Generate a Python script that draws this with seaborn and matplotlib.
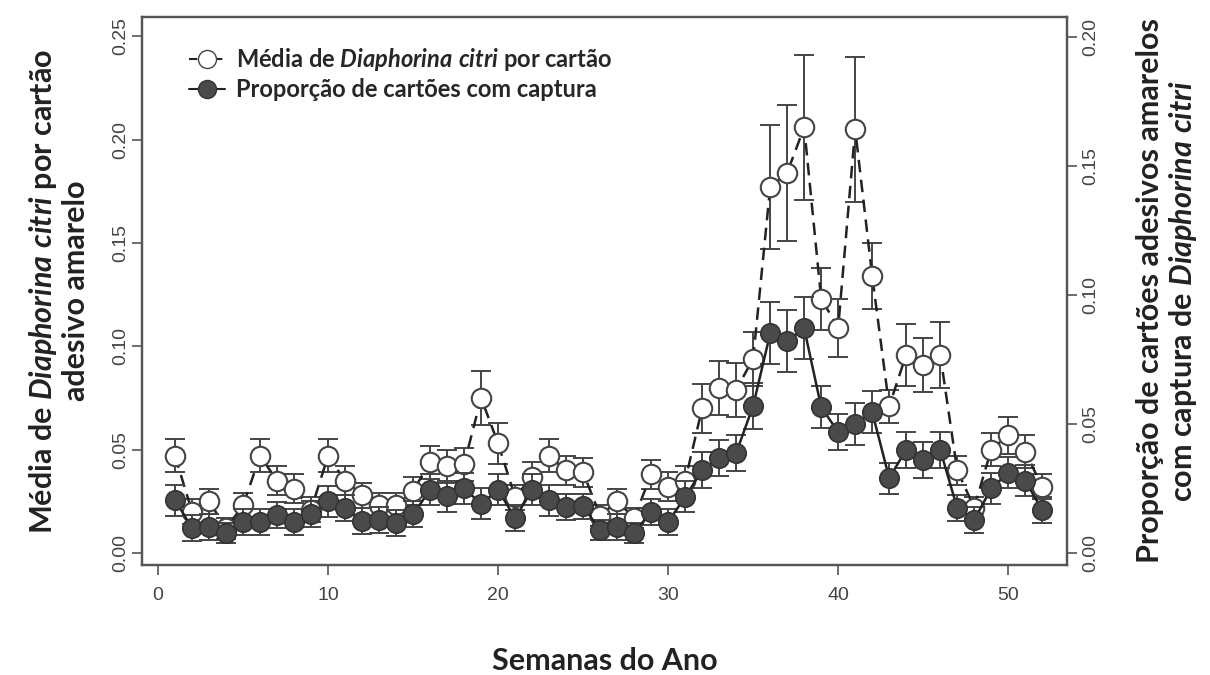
import matplotlib
matplotlib.use("Agg")
import matplotlib.pyplot as plt
from matplotlib.lines import Line2D
import numpy as np
import pandas as pd
import seaborn as sns

# weeks of the year
semanas = list(range(1, 53))

# mean number of D. citri per card (left axis)
media = [0.047, 0.020, 0.025, 0.012, 0.023, 0.047, 0.035, 0.031, 0.021, 0.047,
         0.035, 0.028, 0.023, 0.023, 0.030, 0.044, 0.042, 0.043, 0.075, 0.053,
         0.027, 0.037, 0.047, 0.040, 0.039, 0.018, 0.025, 0.017, 0.038, 0.032,
         0.035, 0.070, 0.080, 0.079, 0.094, 0.177, 0.184, 0.206, 0.123, 0.109,
         0.205, 0.134, 0.071, 0.096, 0.091, 0.096, 0.040, 0.022, 0.050, 0.057,
         0.049, 0.032]
media_err = [0.008, 0.006, 0.006, 0.005, 0.006, 0.008, 0.007, 0.007, 0.006, 0.008,
             0.007, 0.006, 0.006, 0.006, 0.007, 0.008, 0.008, 0.008, 0.013, 0.010,
             0.006, 0.007, 0.008, 0.007, 0.007, 0.005, 0.006, 0.005, 0.007, 0.007,
             0.007, 0.012, 0.013, 0.013, 0.013, 0.030, 0.033, 0.035, 0.015, 0.014,
             0.035, 0.016, 0.008, 0.015, 0.013, 0.016, 0.007, 0.005, 0.008, 0.009,
             0.008, 0.006]

# proportion of cards with capture (right axis)
proporcao = [0.0205, 0.0097, 0.0100, 0.0077, 0.0120, 0.0120, 0.0147, 0.0120, 0.0150, 0.0200,
             0.0174, 0.0124, 0.0128, 0.0116, 0.0150, 0.0244, 0.0220, 0.0250, 0.0190, 0.0244,
             0.0135, 0.0244, 0.0205, 0.0178, 0.0180, 0.0089, 0.0100, 0.0077, 0.0160, 0.0120,
             0.0217, 0.0320, 0.0368, 0.0387, 0.0570, 0.0850, 0.0820, 0.0870, 0.0565, 0.0468,
             0.0500, 0.0546, 0.0290, 0.0400, 0.0360, 0.0400, 0.0174, 0.0128, 0.0250, 0.0310,
             0.0280, 0.0166]
proporcao_err = [0.006, 0.005, 0.005, 0.004, 0.005, 0.005, 0.005, 0.005, 0.005, 0.006,
                 0.005, 0.005, 0.005, 0.005, 0.005, 0.006, 0.006, 0.006, 0.006, 0.006,
                 0.005, 0.006, 0.006, 0.005, 0.005, 0.004, 0.005, 0.004, 0.005, 0.005,
                 0.006, 0.007, 0.007, 0.007, 0.009, 0.012, 0.012, 0.012, 0.008, 0.007,
                 0.008, 0.008, 0.006, 0.007, 0.007, 0.007, 0.005, 0.005, 0.006, 0.006,
                 0.006, 0.005]

df = pd.DataFrame({"semana": semanas, "media": media, "media_err": media_err,
                   "prop": proporcao, "prop_err": proporcao_err})

sns.set_style("white")
plt.rcParams["font.family"] = ["Lato", "DejaVu Sans"]
plt.rcParams["mathtext.fontset"] = "custom"
plt.rcParams["mathtext.rm"] = "Lato:bold"
plt.rcParams["mathtext.it"] = "Lato:italic:bold"
plt.rcParams["mathtext.bf"] = "Lato:bold"

fig = plt.figure(figsize=(12.10, 6.75), dpi=100)
ax = fig.add_axes([0.1174, 0.163, 0.7646, 0.812])
ax2 = ax.twinx()

frame_col = "#555555"
tick_font = {"family": "Liberation Sans", "size": 14, "color": "#444444"}

# open circles, dashed line, left axis
ax.errorbar(df["semana"], df["media"], yerr=df["media_err"], fmt="none",
            ecolor="#444444", elinewidth=1.4, capsize=7, capthick=1.4, zorder=2)
sns.lineplot(data=df, x="semana", y="media", ax=ax, color="#222222",
             linestyle=(0, (5, 3)), linewidth=1.8, marker="o", markersize=14,
             markerfacecolor="white", markeredgecolor="#444444",
             markeredgewidth=1.5, zorder=3)

# filled circles, solid line, right axis
ax2.errorbar(df["semana"], df["prop"], yerr=df["prop_err"], fmt="none",
             ecolor="#444444", elinewidth=1.4, capsize=7, capthick=1.4, zorder=2)
sns.lineplot(data=df, x="semana", y="prop", ax=ax2, color="#222222",
             linewidth=1.8, marker="o", markersize=14,
             markerfacecolor="#4a4a4a", markeredgecolor="#333333",
             markeredgewidth=1.2, zorder=3)

ax.set_xlim(-0.94, 53.47)
ax.set_ylim(-0.0058, 0.2594)
ax2.set_ylim(-0.00465, 0.2076)

ax.set_xticks([0, 10, 20, 30, 40, 50])
ax.set_yticks([0.0, 0.05, 0.10, 0.15, 0.20, 0.25])
ax2.set_yticks([0.0, 0.05, 0.10, 0.15, 0.20])
ax.set_xticklabels(["0", "10", "20", "30", "40", "50"], fontdict=tick_font)
ax.set_yticklabels(["0.00", "0.05", "0.10", "0.15", "0.20", "0.25"],
                   fontdict=tick_font, rotation=90, va="center")
ax2.set_yticklabels(["0.00", "0.05", "0.10", "0.15", "0.20"],
                    fontdict=tick_font, rotation=90, va="center")

for a in (ax, ax2):
    a.tick_params(direction="out", length=7, width=1.2, color=frame_col, pad=2)
    for s in a.spines.values():
        s.set_color(frame_col)
        s.set_linewidth(1.6)
ax.tick_params(axis="x", bottom=True, pad=9)
ax.tick_params(axis="y", left=True)
ax2.tick_params(axis="y", right=True, pad=4)

label_font = {"size": 22, "weight": "bold", "color": "#222222"}
ax.set_xlabel("Semanas do Ano", fontdict=label_font, labelpad=31)
ax.set_ylabel("Média de $\\it{Diaphorina\\ citri}$ por cartão\nadesivo amarelo",
              fontdict=label_font, labelpad=16, linespacing=1.15)
ax2.set_ylabel("Proporção de cartões adesivos amarelos\ncom captura de $\\it{Diaphorina\\ citri}$",
               fontdict=label_font, labelpad=26, linespacing=1.15)

handles = [
    Line2D([], [], color="#222222", linestyle=(0, (4, 2)), linewidth=1.5, marker="o",
           markersize=13, markerfacecolor="white", markeredgecolor="#444444"),
    Line2D([], [], color="#222222", linewidth=1.5, marker="o", markersize=13,
           markerfacecolor="#4a4a4a", markeredgecolor="#333333"),
]
labels = ["Média de $\\it{Diaphorina\\ citri}$ por cartão",
          "Proporção de cartões com captura"]
ax2.legend(handles, labels, loc="upper left", frameon=False, handlelength=1.5,
           handletextpad=0.5, labelspacing=0.2, bbox_to_anchor=(0.028, 0.985),
           prop={"size": 17, "weight": "bold"})

fig.savefig("out.png", dpi=100)
